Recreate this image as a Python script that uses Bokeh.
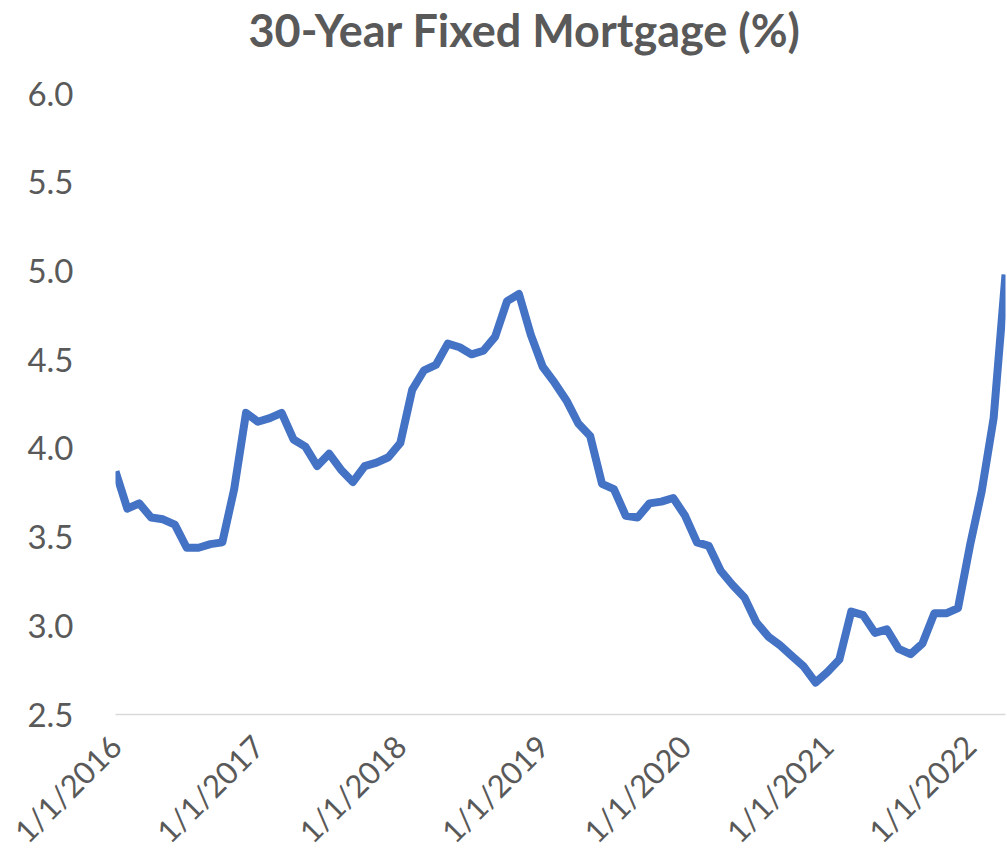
from bokeh.plotting import figure
from bokeh.models import FixedTicker, Range1d, Title, ColumnDataSource
from bokeh.embed import file_html
from bokeh.resources import INLINE
import math

# Monthly 30-year fixed mortgage rate, Jan 2016 - Apr 2022
months = [f"{y}-{m:02d}" for y in range(2016, 2023) for m in range(1, 13)][:76]
rates = [
    3.87, 3.66, 3.69, 3.61, 3.60, 3.57, 3.44, 3.44, 3.46, 3.47, 3.77, 4.20,
    4.15, 4.17, 4.20, 4.05, 4.01, 3.90, 3.97, 3.88, 3.81, 3.90, 3.92, 3.95,
    4.03, 4.33, 4.44, 4.47, 4.59, 4.57, 4.53, 4.55, 4.63, 4.83, 4.87, 4.64,
    4.46, 4.37, 4.27, 4.14, 4.07, 3.80, 3.77, 3.62, 3.61, 3.69, 3.70, 3.72,
    3.62, 3.47, 3.45, 3.31, 3.23, 3.16, 3.02, 2.94, 2.89, 2.83, 2.77, 2.68,
    2.74, 2.81, 3.08, 3.06, 2.96, 2.98, 2.87, 2.84, 2.90, 3.07, 3.07, 3.10,
    3.45, 3.76, 4.17, 4.98,
]
tick_labels = ["1/1/2016", "1/1/2017", "1/1/2018", "1/1/2019",
               "1/1/2020", "1/1/2021", "1/1/2022"]
y_ticks = [2.5, 3.0, 3.5, 4.0, 4.5, 5.0, 5.5, 6.0]
title_text = "30-Year Fixed Mortgage (%)"

x_idx = list(range(len(months)))
tick_pos = [i for i, m in enumerate(months) if m.endswith("-01")]

TEXT = "#595959"
FONT = "Lato"

p = figure(width=1007, height=866, output_backend="svg", toolbar_location=None,
           x_range=Range1d(0, len(months) - 1), y_range=Range1d(2.5, 6.0),
           min_border_left=115, min_border_right=2, min_border_top=0,
           min_border_bottom=151)
p.outline_line_color = None
p.xgrid.grid_line_color = None
p.ygrid.grid_line_color = None

src = ColumnDataSource(dict(x=x_idx, y=rates))
p.line("x", "y", source=src, line_color="#4472C4", line_width=8,
       line_join="round")

# y axis
p.yaxis.ticker = FixedTicker(ticks=y_ticks)
p.yaxis.major_label_overrides = {t: f"{t:.1f}" for t in y_ticks}
p.yaxis.axis_line_color = None
p.yaxis.major_tick_line_color = None
p.yaxis.minor_tick_line_color = None
p.yaxis.major_label_text_font = FONT
p.yaxis.major_label_text_font_size = "33px"
p.yaxis.major_label_text_color = TEXT
p.yaxis.major_label_standoff = 36

# x axis
p.xaxis.ticker = FixedTicker(ticks=tick_pos)
p.xaxis.major_label_overrides = {pos: lab for pos, lab in zip(tick_pos, tick_labels)}
p.xaxis.axis_line_color = "#D9D9D9"
p.xaxis.axis_line_width = 1.5
p.xaxis.major_tick_line_color = None
p.xaxis.minor_tick_line_color = None
p.xaxis.major_label_orientation = math.pi / 4
p.xaxis.major_label_text_font = FONT
p.xaxis.major_label_text_font_size = "31px"
p.xaxis.major_label_text_color = TEXT
p.xaxis.major_label_standoff = 20

# chart title (outermost) and an empty spacer title between it and the frame
p.title = Title(text=title_text, align="left", offset=133, standoff=0,
                text_font=FONT, text_font_size="45px", text_font_style="bold",
                text_color=TEXT)
p.add_layout(Title(text=" ", text_font_size="20px", standoff=13), "above")

open("out.html", "w").write(file_html(p, INLINE))
